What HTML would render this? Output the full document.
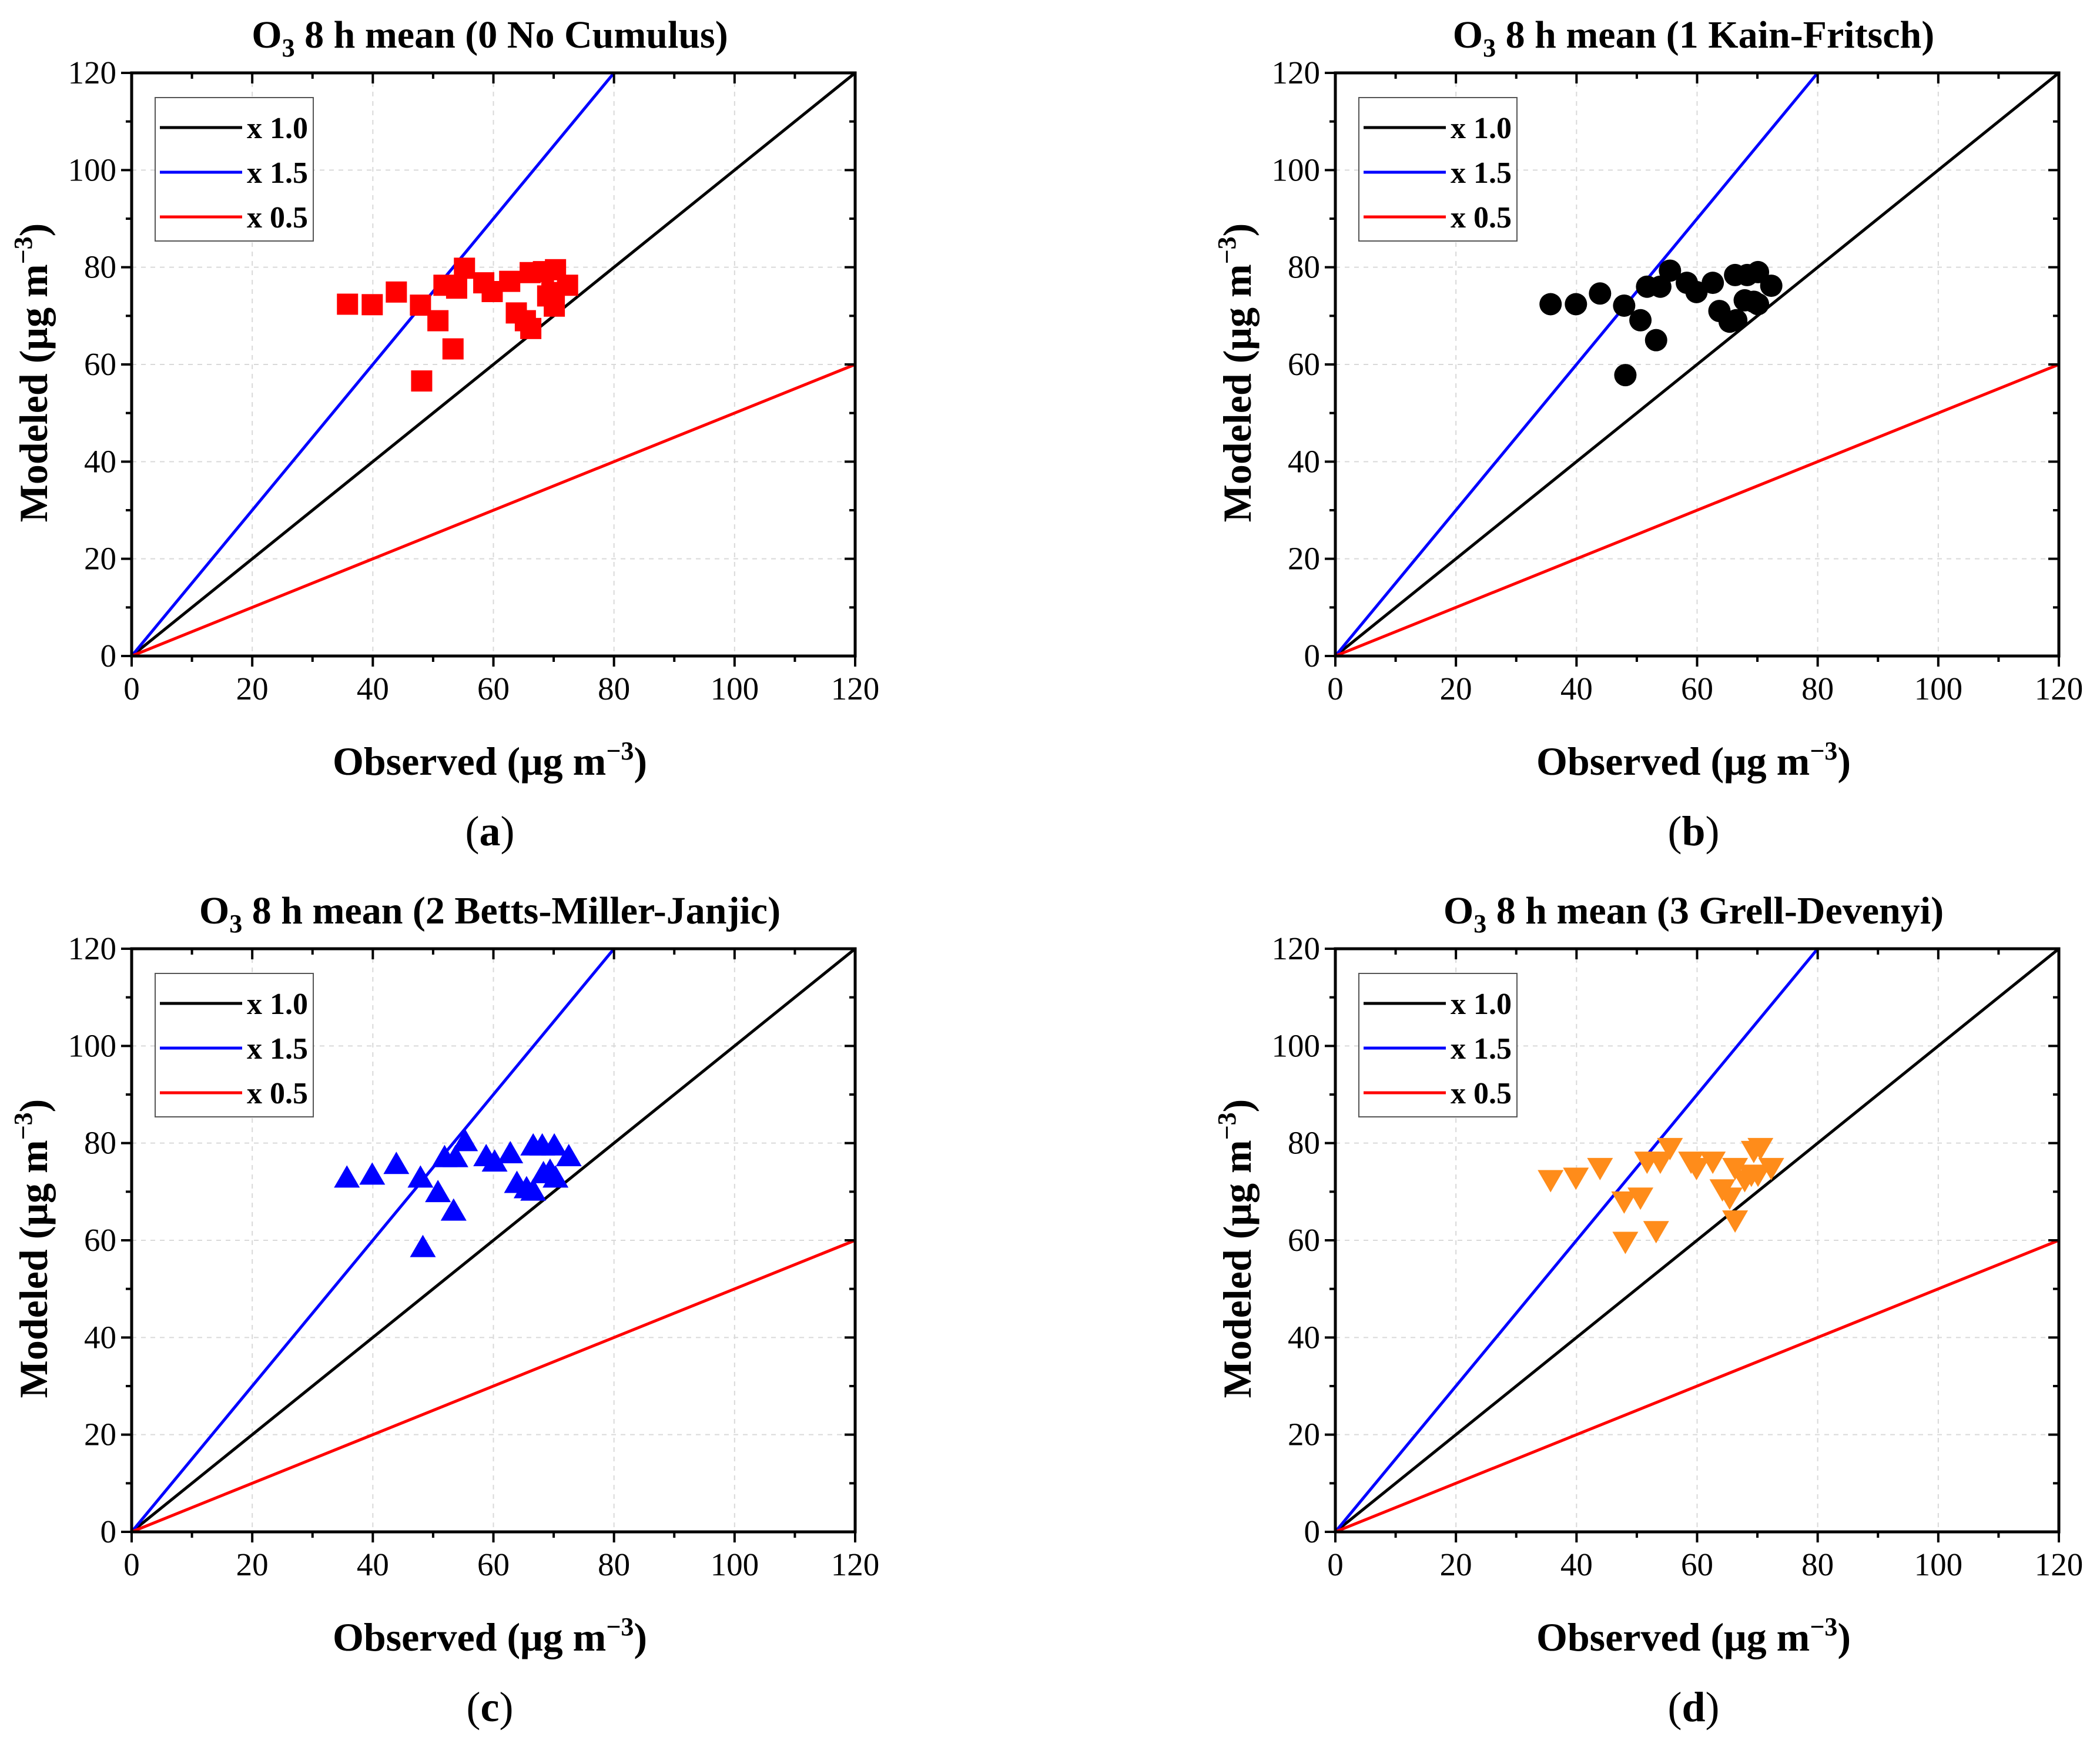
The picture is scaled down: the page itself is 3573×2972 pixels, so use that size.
<!DOCTYPE html>
<html><head><meta charset="utf-8">
<style>
html,body{margin:0;padding:0;background:#fff;}
svg{display:block;font-family:"Liberation Serif",serif;}
</style></head>
<body>
<svg id="fig" width="3573" height="2972" viewBox="0 0 3573 2972" xmlns="http://www.w3.org/2000/svg"></svg>
<script>
const ticks = [0,20,40,60,80,100,120];
const tickLabels = ["0","20","40","60","80","100","120"];
const titles = ["0 No Cumulus","1 Kain-Fritsch","2 Betts-Miller-Janjic","3 Grell-Devenyi"];
const panelLetters = ["a","b","c","d"];
const obsA = [35.8,39.9,43.9,47.9,50.8,53.3,48.1,51.8,53.9,55.2,58.4,59.8,62.7,63.8,65.3,66.2,66.1,68.3,70.3,72.3,70.1,69.0,69.7];
const modA = [72.4,72.3,74.9,72.2,69.0,63.2,56.6,76.3,75.7,79.8,76.8,75.0,77.1,70.6,69.0,67.4,78.9,79.1,79.5,76.3,72.0,74.1,74.8];
const obsB = [35.7,39.9,43.9,47.9,50.6,53.2,48.1,51.7,53.9,55.5,58.3,59.9,62.6,63.7,65.4,66.5,66.3,68.3,70.1,72.3,69.4,70.1,67.9];
const modB = [72.4,72.4,74.6,72.1,69.1,65.0,57.8,76.0,76.0,79.3,76.8,74.9,76.8,71.0,68.8,69.1,78.4,78.4,79.0,76.2,72.9,72.4,73.2];
const obsC = [35.7,39.9,43.9,47.9,50.8,53.4,48.3,51.9,53.7,55.3,58.8,60.2,62.8,63.9,65.5,66.6,66.6,68.1,70.1,72.5,69.4,70.3,68.3];
const modC = [72.9,73.5,75.7,72.9,69.9,66.1,58.6,77.1,77.1,80.4,77.3,76.2,77.9,71.8,70.7,70.2,79.5,79.5,79.5,77.3,74.3,72.9,73.8];
const obsD = [35.7,39.9,43.9,47.9,50.6,53.2,48.1,51.7,53.9,55.5,59.0,59.9,62.6,64.2,65.4,66.3,66.3,69.4,70.5,72.3,69.0,70.1,67.9];
const modD = [72.4,72.9,74.9,68.0,68.8,61.9,59.7,76.2,76.2,79.0,76.2,74.9,76.2,70.5,68.8,64.1,74.9,78.4,79.0,74.9,73.5,73.5,72.4];
const refFactors = [1.0,1.5,0.5];
const refLabels = ["x 1.0","x 1.5","x 0.5"];

const NS="http://www.w3.org/2000/svg";
const svg=document.getElementById('fig');
function mk(tag,attrs,parent){const e=document.createElementNS(NS,tag);for(const k in attrs)e.setAttribute(k,attrs[k]);(parent||svg).appendChild(e);return e;}

const W=1231,H=992,XMAX=120,YMAX=120;
const panels=[
 {L:224,T:124,obs:obsA,mod:modA,color:"#ff0000",shape:"square"},
 {L:2272,T:124,obs:obsB,mod:modB,color:"#000000",shape:"circle"},
 {L:224,T:1614,obs:obsC,mod:modC,color:"#0000ff",shape:"tri"},
 {L:2272,T:1614,obs:obsD,mod:modD,color:"#ff8c1a",shape:"itri"}
];
const refColors=["#000000","#0000ff","#ff0000"];

panels.forEach((p,i)=>{
  const g=mk('g',{});
  
  
  const sx=v=>p.L+v/XMAX*W, sy=v=>p.T+H-v/YMAX*H;
  ticks.forEach(t=>{
    if(t>0&&t<120){
      const gx=mk('line',{x1:sx(t),x2:sx(t),y1:p.T,y2:p.T+H,stroke:"#d9d9d9","stroke-width":2,"stroke-dasharray":"8 8"},g);
      
      
      const gy=mk('line',{x1:p.L,x2:p.L+W,y1:sy(t),y2:sy(t),stroke:"#d9d9d9","stroke-width":2,"stroke-dasharray":"8 8"},g);
      
      
    }
  });
  const clip=mk('clipPath',{id:'clip'+i},g);
  mk('rect',{x:p.L,y:p.T,width:W,height:H},clip);
  refFactors.forEach((f,k)=>{
    const xe=Math.min(XMAX,YMAX/f);
    const l=mk('line',{x1:sx(0),y1:sy(0),x2:sx(xe),y2:sy(xe*f),stroke:refColors[k],"stroke-width":5,"clip-path":"url(#clip"+i+")"},g);
    
    
  });
  p.obs.forEach((o,j)=>{
    const cx=sx(o),cy=sy(p.mod[j]);let m;
    if(p.shape==="square") m=mk('rect',{x:cx-18,y:cy-18,width:36,height:36,fill:p.color},g);
    else if(p.shape==="circle") m=mk('circle',{cx:cx,cy:cy,r:19,fill:p.color},g);
    else if(p.shape==="tri") m=mk('polygon',{points:`${cx},${cy-21} ${cx-22},${cy+17} ${cx+22},${cy+17}`,fill:p.color},g);
    else m=mk('polygon',{points:`${cx},${cy+21} ${cx-22},${cy-17} ${cx+22},${cy-17}`,fill:p.color},g);
    
    
  });
  const fr=mk('rect',{x:p.L,y:p.T,width:W,height:H,fill:"none",stroke:"#000","stroke-width":5},g);
  
  
  for(let v=0;v<=120;v+=10){
    const major=v%20===0, len=major?18:10;
    const t1=mk('line',{x1:sx(v),x2:sx(v),y1:p.T+H,y2:p.T+H+len,stroke:"#000","stroke-width":4},g);
    
    
    const t2=mk('line',{x1:sx(v),x2:sx(v),y1:p.T,y2:p.T+len,stroke:"#000","stroke-width":4},g);
    
    
    const t3=mk('line',{x1:p.L-len,x2:p.L,y1:sy(v),y2:sy(v),stroke:"#000","stroke-width":4},g);
    
    
    const t4=mk('line',{x1:p.L+W-len,x2:p.L+W,y1:sy(v),y2:sy(v),stroke:"#000","stroke-width":4},g);
    
    
  }
  ticks.forEach((t,k)=>{
    const xl=mk('text',{x:sx(t),y:p.T+H+74,"text-anchor":"middle","font-size":55},g);
    xl.textContent=tickLabels[k];
    
    
    const yl=mk('text',{x:p.L-26,y:sy(t)+18,"text-anchor":"end","font-size":55},g);
    yl.textContent=tickLabels[k];
    
    
  });
  const tt=mk('text',{x:p.L+W/2-6,y:p.T-43,"text-anchor":"middle","font-size":66,"font-weight":"bold"},g);
  tt.innerHTML='O<tspan font-size="44" dy="15">3</tspan><tspan dy="-15"> 8 h mean ('+titles[i]+')</tspan>';
  
  
  const xt=mk('text',{x:p.L+W/2-6,y:p.T+H+202,"text-anchor":"middle","font-size":68,"font-weight":"bold"},g);
  xt.innerHTML='Observed (μg m<tspan font-size="44" dy="-26">−3</tspan><tspan dy="26">)</tspan>';
  
  
  const yt=mk('text',{x:0,y:0,"text-anchor":"middle","font-size":68,"font-weight":"bold",transform:`translate(${p.L-144},${p.T+H/2+14}) rotate(-90)`},g);
  yt.innerHTML='Modeled (μg m<tspan font-size="44" dy="-26">−3</tspan><tspan dy="26">)</tspan>';
  
  
  const pl=mk('text',{x:p.L+W/2-6,y:p.T+H+322,"text-anchor":"middle","font-size":72},g);
  pl.innerHTML='(<tspan font-weight="bold">'+panelLetters[i]+'</tspan>)';
  
  
  const lg=mk('g',{},g);
  
  
  mk('rect',{x:p.L+40,y:p.T+42,width:269,height:244,fill:"#fff",stroke:"#555","stroke-width":2},lg);
  refLabels.forEach((lab,k)=>{
    const yy=p.T+93+k*76;
    const e=mk('g',{},lg);
    
    
    mk('line',{x1:p.L+48,x2:p.L+188,y1:yy,y2:yy,stroke:refColors[k],"stroke-width":5},e);
    const tx=mk('text',{x:p.L+196,y:yy+18,"font-size":52,"font-weight":"bold"},e);
    tx.textContent=lab;
  });
});
</script>
</body></html>
